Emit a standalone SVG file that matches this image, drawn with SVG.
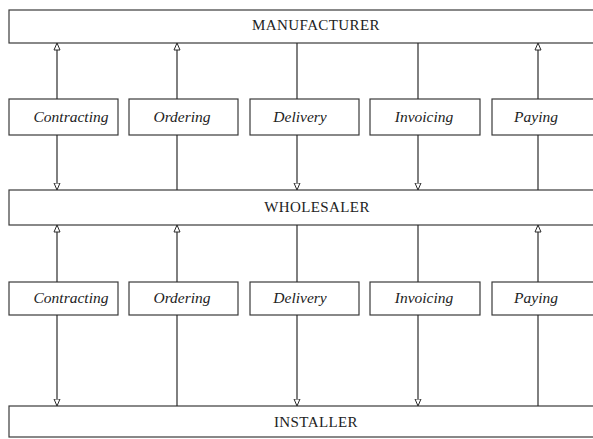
<svg xmlns="http://www.w3.org/2000/svg" width="593" height="439" viewBox="0 0 593 439">
<style>
.box{fill:#fff;stroke:#3a3a3a;stroke-width:1.2}
.big{font-family:"Liberation Serif","Times New Roman",serif;font-size:15px;fill:#222;text-anchor:middle;letter-spacing:0.4px}
.lbl{font-family:"Liberation Serif","Times New Roman",serif;font-size:15.5px;font-style:italic;fill:#222;text-anchor:middle}
.c line{stroke:#2a2a2a;stroke-width:1.2}
</style>
<defs>
<marker id="ah" viewBox="0 0 8 8" refX="7.5" refY="4" markerWidth="8" markerHeight="8" markerUnits="userSpaceOnUse" orient="auto">
<path d="M0.5,1 L7.5,4 L0.5,7 z" fill="#fff" stroke="#2a2a2a" stroke-width="1"/>
</marker>
</defs>
<rect width="593" height="439" fill="#fff"/>
<g id="manufacturer"><rect class="box" x="9" y="10" width="595" height="33"/><text class="big" x="316" y="30">MANUFACTURER</text></g>
<g id="wholesaler"><rect class="box" x="9" y="190" width="595" height="35"/><text class="big" x="317" y="212">WHOLESALER</text></g>
<g id="installer"><rect class="box" x="9" y="406" width="595" height="31"/><text class="big" x="316" y="427">INSTALLER</text></g>
<g id="contracting1"><rect class="box" x="9" y="99" width="109" height="36"/><text class="lbl" x="71" y="122">Contracting</text></g>
<g id="ordering1"><rect class="box" x="129" y="99" width="109" height="36"/><text class="lbl" x="182" y="122">Ordering</text></g>
<g id="delivery1"><rect class="box" x="250" y="99" width="109" height="36"/><text class="lbl" x="300" y="122">Delivery</text></g>
<g id="invoicing1"><rect class="box" x="370" y="99" width="110" height="36"/><text class="lbl" x="424" y="122">Invoicing</text></g>
<g id="paying1"><rect class="box" x="492" y="99" width="110" height="36"/><text class="lbl" x="536" y="122">Paying</text></g>
<g id="contracting2"><rect class="box" x="9" y="282" width="109" height="33"/><text class="lbl" x="71" y="303">Contracting</text></g>
<g id="ordering2"><rect class="box" x="129" y="282" width="109" height="33"/><text class="lbl" x="182" y="303">Ordering</text></g>
<g id="delivery2"><rect class="box" x="250" y="282" width="109" height="33"/><text class="lbl" x="300" y="303">Delivery</text></g>
<g id="invoicing2"><rect class="box" x="370" y="282" width="110" height="33"/><text class="lbl" x="424" y="303">Invoicing</text></g>
<g id="paying2"><rect class="box" x="492" y="282" width="110" height="33"/><text class="lbl" x="536" y="303">Paying</text></g>
<g id="connectors" class="c">
<line x1="57" y1="99" x2="57" y2="43" marker-end="url(#ah)"/>
<line x1="57" y1="135" x2="57" y2="190" marker-end="url(#ah)"/>
<line x1="177" y1="99" x2="177" y2="43" marker-end="url(#ah)"/>
<line x1="177" y1="135" x2="177" y2="190"/>
<line x1="297" y1="43" x2="297" y2="99"/>
<line x1="297" y1="135" x2="297" y2="190" marker-end="url(#ah)"/>
<line x1="418" y1="43" x2="418" y2="99"/>
<line x1="418" y1="135" x2="418" y2="190" marker-end="url(#ah)"/>
<line x1="538" y1="99" x2="538" y2="43" marker-end="url(#ah)"/>
<line x1="538" y1="135" x2="538" y2="190"/>
<line x1="57" y1="282" x2="57" y2="225" marker-end="url(#ah)"/>
<line x1="57" y1="315" x2="57" y2="406" marker-end="url(#ah)"/>
<line x1="177" y1="282" x2="177" y2="225" marker-end="url(#ah)"/>
<line x1="177" y1="315" x2="177" y2="406"/>
<line x1="297" y1="225" x2="297" y2="282"/>
<line x1="297" y1="315" x2="297" y2="406" marker-end="url(#ah)"/>
<line x1="418" y1="225" x2="418" y2="282"/>
<line x1="418" y1="315" x2="418" y2="406" marker-end="url(#ah)"/>
<line x1="538" y1="282" x2="538" y2="225" marker-end="url(#ah)"/>
<line x1="538" y1="315" x2="538" y2="406"/>
</g>
</svg>
